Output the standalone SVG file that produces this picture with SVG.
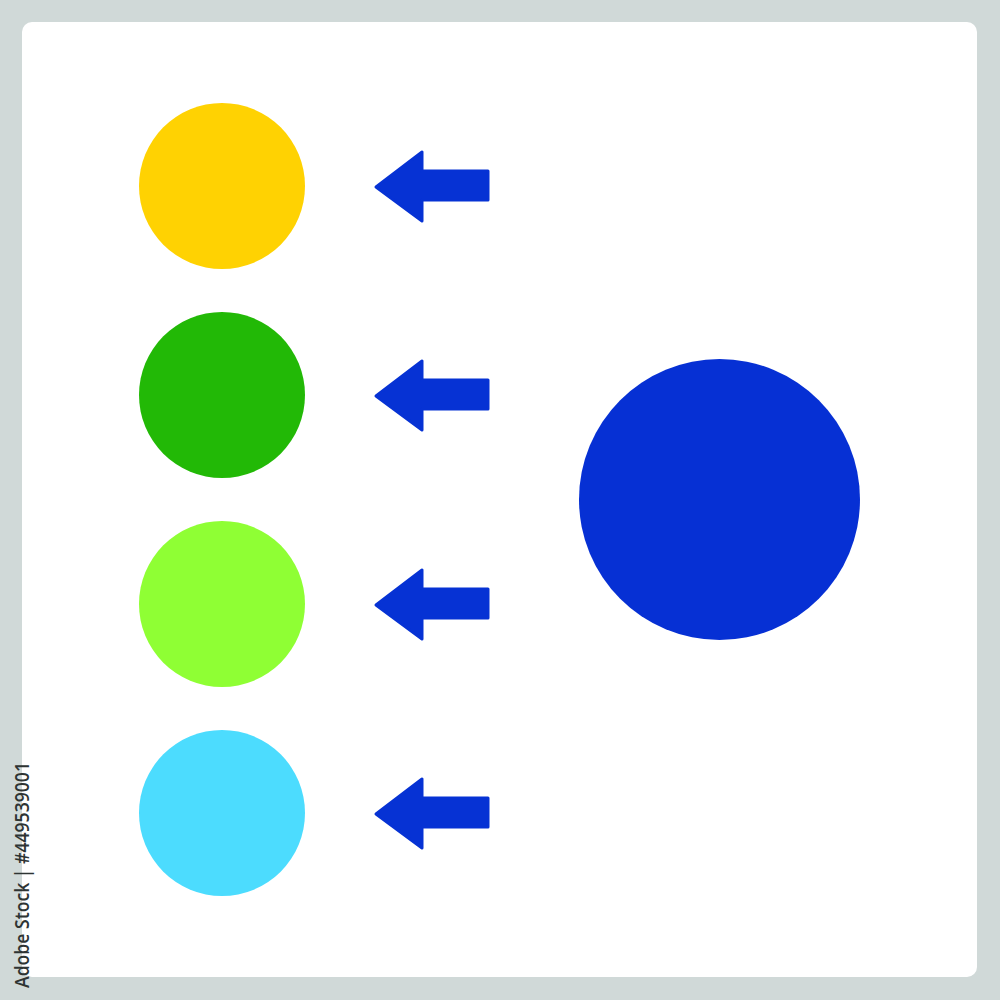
<svg xmlns="http://www.w3.org/2000/svg" width="1000" height="1000" viewBox="0 0 1000 1000">
<defs>
<style>
.arrow{fill:#0632D4;stroke:#0632D4;stroke-width:3;stroke-linejoin:round}
.side{font-family:"Open Sans","Liberation Sans",sans-serif;font-size:20px;font-weight:600;fill:#2E3433}
</style>
<path id="arr" d="M376 1 L422 -34 L422 -15 L488 -15 L488 14 L422 14 L422 35 Z"/>
</defs>
<rect x="0" y="0" width="1000" height="1000" fill="#D0D9D8"/>
<rect x="22" y="22" width="955" height="955" rx="10" fill="#FFFFFF"/>
<g id="node-yellow"><circle cx="222" cy="186" r="83" fill="#FFD202"/></g>
<g id="node-green"><circle cx="222" cy="395" r="83" fill="#22B906"/></g>
<g id="node-lightgreen"><circle cx="222" cy="604" r="83" fill="#8FFF34"/></g>
<g id="node-cyan"><circle cx="222" cy="813" r="83" fill="#4CDCFE"/></g>
<g id="node-blue"><circle cx="719.5" cy="499.5" r="140.5" fill="#0630D4"/></g>
<g id="connectors">
<use href="#arr" class="arrow" transform="translate(0,186)"/>
<use href="#arr" class="arrow" transform="translate(0,395)"/>
<use href="#arr" class="arrow" transform="translate(0,604)"/>
<use href="#arr" class="arrow" transform="translate(0,813)"/>
</g>
<text class="side" transform="translate(29,988) rotate(-90)" textLength="226" lengthAdjust="spacingAndGlyphs">Adobe Stock | #449539001</text>
</svg>
